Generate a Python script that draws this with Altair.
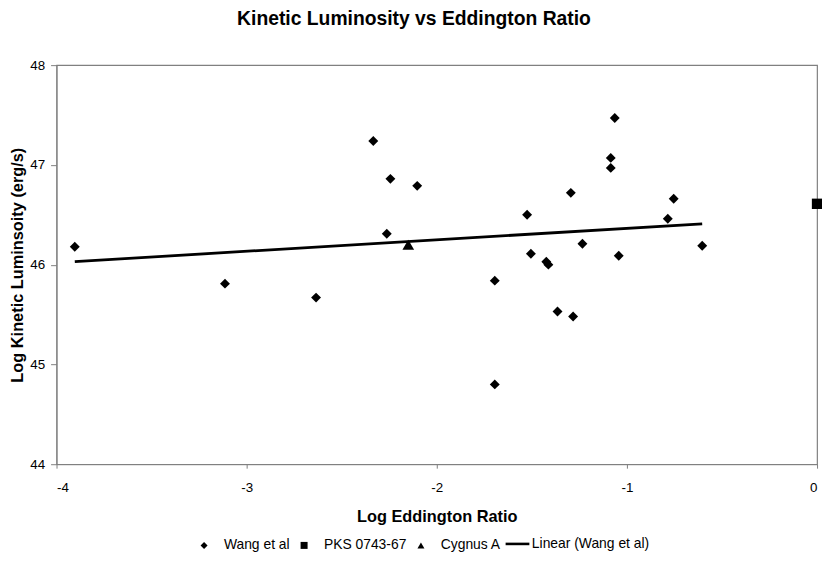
import altair as alt
import pandas as pd

# Wang et al points
wang_x = [-3.904, -3.114, -2.635, -2.334, -2.244, -2.263, -2.103, -1.695, -1.695,
          -1.525, -1.505, -1.424, -1.413, -1.365, -1.295, -1.283, -1.234, -1.085,
          -1.085, -1.064, -1.043, -0.785, -0.754, -0.604]
wang_y = [46.18, 45.81, 45.67, 47.24, 46.86, 46.31, 46.79, 45.84, 44.80,
          46.50, 46.11, 46.03, 46.00, 45.53, 46.72, 45.48, 46.21, 47.07,
          46.97, 47.47, 46.09, 46.46, 46.66, 46.19]
pks_x = [0.0]
pks_y = [46.61]
cyg_x = [-2.15]
cyg_y = [46.20]
trend_x = [-3.904, -0.604]
trend_y = [46.03, 46.41]

series_names = ["Wang et al", "PKS 0743-67", "Cygnus A"]
series_shapes = ["diamond", "square", "triangle-up"]
trend_name = "Linear (Wang et al)"
x_ticks = [-4, -3, -2, -1, 0]
y_ticks = [44, 45, 46, 47, 48]

FONT = "Liberation Sans"

wang = pd.DataFrame({"x": wang_x, "y": wang_y, "series": series_names[0]})
pks = pd.DataFrame({"x": pks_x, "y": pks_y, "series": series_names[1]})
cyg = pd.DataFrame({"x": cyg_x, "y": cyg_y, "series": series_names[2]})
trend = pd.DataFrame({"x": trend_x, "y": trend_y, "kind": trend_name})

xscale = alt.Scale(domain=[-4, 0], nice=False, zero=False)
yscale = alt.Scale(domain=[44, 48], nice=False, zero=False)

x_enc = alt.X("x:Q", scale=xscale, axis=alt.Axis(
    title="Log Eddington Ratio", values=x_ticks, labelExpr="'' + datum.value",
    tickSize=4, labelPadding=13, titlePadding=14))
y_enc = alt.Y("y:Q", scale=yscale, axis=alt.Axis(
    title="Log Kinetic Luminsoity (erg/s)", values=y_ticks, labelExpr="'' + datum.value",
    tickSize=6, labelPadding=6, titlePadding=4))

shape_legend = alt.Legend(
    title=None, orient="none", legendX=142, legendY=478, direction="horizontal", padding=0,
    labelFont=FONT, labelFontSize=14, labelColor="black", symbolSize=50,
    columnPadding=7, labelOffset=13,
    symbolFillColor="black", symbolStrokeColor="black", symbolStrokeWidth=0,
)
shape_enc = alt.Shape("series:N", scale=alt.Scale(domain=series_names, range=series_shapes),
                      legend=shape_legend)

line_legend = alt.Legend(
    title=None, orient="none", legendX=452, legendY=470, direction="horizontal", padding=0,
    labelFont=FONT, labelFontSize=14, labelColor="black", symbolType="stroke",
    symbolSize=576, symbolStrokeWidth=2.6, symbolStrokeColor="black", labelOffset=1,
)

line = alt.Chart(trend).mark_line(strokeWidth=2.8).encode(
    x=x_enc, y=y_enc,
    color=alt.Color("kind:N", scale=alt.Scale(domain=[trend_name], range=["black"]),
                    legend=line_legend))


def pts(df, size):
    return alt.Chart(df).mark_point(filled=True, color="black", opacity=1, size=size).encode(
        x=x_enc, y=y_enc, shape=shape_enc)


chart = alt.layer(line, pts(wang, 100), pts(pks, 110), pts(cyg, 140)).properties(
    width=768, height=403,
    autosize=alt.AutoSizeParams(type="none"),
    padding={"left": 49, "top": 55, "right": 5, "bottom": 90},
    title=alt.TitleParams(text="Kinetic Luminosity vs Eddington Ratio", fontSize=19.5,
                          fontWeight="bold", font=FONT, anchor="middle", dx=-23, offset=29,
                          color="black"),
).configure(background="white").configure_view(stroke="#808080", strokeWidth=1.2).configure_axis(
    grid=False, domainColor="#808080", tickColor="#808080", labelFont=FONT, labelFontSize=13.5,
    labelColor="black", titleFont=FONT, titleFontSize=16.5, titleFontWeight="bold",
    titleColor="black",
)

chart.save("out.html", embed_options={"renderer": "svg", "actions": False})
